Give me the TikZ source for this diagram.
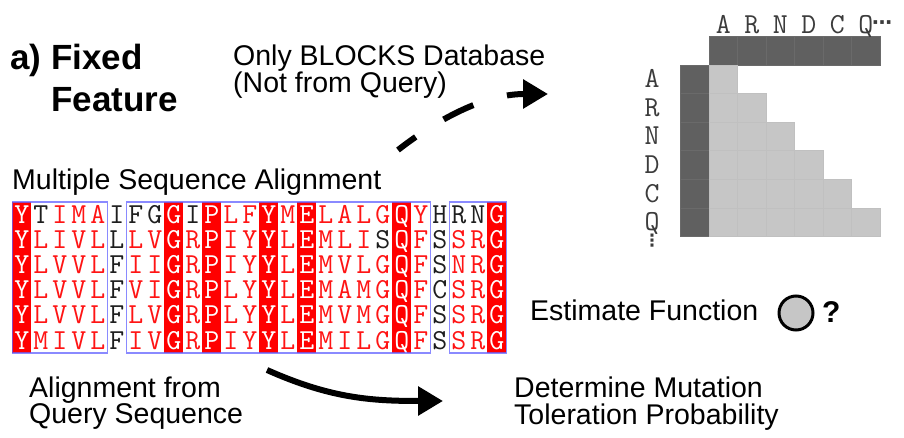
\documentclass[tikz,border=0pt]{standalone}
\usepackage{fontspec}
\setmainfont{Liberation Sans}
\newfontfamily\dejavu{DejaVu Sans}
\usetikzlibrary{arrows.meta}
\definecolor{alnred}{RGB}{255,0,0}
\definecolor{boxblue}{RGB}{100,100,255}
\definecolor{darkcell}{RGB}{96,96,96}
\definecolor{lightcell}{RGB}{198,198,198}
\definecolor{colW}{RGB}{255,255,255}
\definecolor{colR}{RGB}{255,20,20}
\definecolor{colK}{RGB}{30,30,30}
\definecolor{lblgray}{RGB}{60,60,60}
\tikzset{
  sans/.style={font=\fontsize{28.5}{34}\selectfont, inner sep=0pt, anchor=base west},
  titletext/.style={font=\bfseries\fontsize{35}{40}\selectfont, inner sep=0pt, anchor=base west},
  aa/.style={font=\ttfamily\fontsize{29}{29}\selectfont, inner sep=0pt, anchor=base},
  lbl/.style={font=\ttfamily\fontsize{29}{29}\selectfont, inner sep=0pt, anchor=base, text=lblgray},
  bigarrow/.style={line width=6pt, -{Triangle[length=25pt,width=28pt]}},
  darkbox/.style={fill=darkcell, draw=darkcell!94!white, line width=0.8pt},
  lightbox/.style={fill=lightcell, draw=lightcell!97!black, line width=0.8pt},
  bluebox/.style={draw=boxblue, draw opacity=0.75, line width=1.6pt},
}
\begin{document}
\begin{tikzpicture}[x=1pt,y=-1pt]
\useasboundingbox (0,0) rectangle (904,438);
\fill[white] (0,0) rectangle (904,438);

% titles and texts
\node[titletext] (t1) at (10,70) {a) Fixed};
\node[titletext] (t2) at (51,112) {Feature};
\node[sans] (blk1) at (233,66) {Only BLOCKS Database};
\node[sans] (blk2) at (233,93) {(Not from Query)};
\node[sans] (msa) at (12,190) {Multiple Sequence Alignment};
\node[sans] (aq1) at (29,397) {Alignment from};
\node[sans] (aq2) at (29,423) {Query Sequence};
\node[sans] (dm1) at (514,397) {Determine Mutation};
\node[sans] (dm2) at (514,424) {Toleration Probability};
\node[sans] (ef) at (530,320) {Estimate Function};
\node[circle, draw=black, line width=3pt, fill=lightcell, minimum size=34pt, inner sep=0pt] (fc) at (796,313) {};
\node[titletext, font=\bfseries\fontsize{30}{32}\selectfont] (qm) at (822,322) {?};

% alignment red columns
\foreach \c in {1,9,11,14,16,21,26}
  \fill[alnred] ({12.3+(\c-1)*19},202) rectangle ({12.3+\c*19},353.2);

% alignment letters
\foreach \r/\rowlist in {
 1/{Y/W,T/K,I/R,M/R,A/R,I/K,F/K,G/K,G/W,I/K,P/W,L/R,F/R,Y/W,M/R,E/W,L/R,A/R,L/R,G/R,Q/W,Y/R,H/K,R/K,N/K,G/W},
 2/{Y/W,L/R,I/R,V/R,L/R,L/K,L/R,V/R,G/W,R/R,P/W,I/R,Y/R,Y/W,L/R,E/W,M/R,L/R,I/R,S/K,Q/W,F/R,S/K,S/R,R/R,G/W},
 3/{Y/W,L/R,V/R,V/R,L/R,F/K,I/R,I/R,G/W,R/R,P/W,I/R,Y/R,Y/W,L/R,E/W,M/R,V/R,L/R,G/R,Q/W,F/R,S/K,N/R,R/R,G/W},
 4/{Y/W,L/R,V/R,V/R,L/R,F/K,V/R,I/R,G/W,R/R,P/W,L/R,Y/R,Y/W,L/R,E/W,M/R,A/R,M/R,G/R,Q/W,F/R,C/K,S/R,R/R,G/W},
 5/{Y/W,L/R,V/R,V/R,L/R,F/K,L/R,V/R,G/W,R/R,P/W,L/R,Y/R,Y/W,L/R,E/W,M/R,V/R,M/R,G/R,Q/W,F/R,S/K,S/R,R/R,G/W},
 6/{Y/W,M/R,I/R,V/R,L/R,F/K,I/R,V/R,G/W,R/R,P/W,I/R,Y/R,Y/W,L/R,E/W,M/R,I/R,L/R,G/R,Q/W,F/R,S/K,S/R,R/R,G/W}}
{
  \foreach \ch/\cd [count=\c] in \rowlist
    \node[aa, text=col\cd] (a-\r-\c) at ({12.3+(\c-0.5)*19},{202+(\r-0.5)*25.2+8.5}) {\ch};
}

% alignment blue boxes
\draw[bluebox] (12.3,202) rectangle (107.3,353.2);
\draw[bluebox] (126.3,202) rectangle (430.3,353.2);
\draw[bluebox] (449.3,202) rectangle (506.3,353.2);

% substitution matrix
\foreach \j in {1,...,6}
  \filldraw[darkbox] ({709+(\j-1)*28.5},36.7) rectangle ++(28.5,28.3);
\foreach \i in {1,...,6}
  \filldraw[darkbox] (680,{65+(\i-1)*28.6}) rectangle ++(29,28.6);
\foreach \i in {1,...,6}
  \foreach \j in {1,...,\i}
    \filldraw[lightbox] ({709+(\j-1)*28.5},{65+(\i-1)*28.6}) rectangle ++(28.5,28.6);

\foreach \l [count=\j] in {A,R,N,D,C,Q}
  \node[lbl] (col-\j) at ({709+(\j-0.5)*28.5},33.5) {\l};
\node[inner sep=0pt, anchor=west, text=lblgray, font=\dejavu\bfseries\fontsize{20}{20}\selectfont] (cdots) at (872,25) {⋯};
\foreach \l [count=\i] in {A,R,N,D,C,Q}
  \node[lbl] (row-\i) at (652,{65+(\i-0.5)*28.6+8.5}) {\l};
\node[inner sep=0pt, anchor=north, text=lblgray, font=\dejavu\bfseries\fontsize{17}{17}\selectfont] (vdots) at (652,234) {⋮};

% arrows
\coordinate (dashS) at (398,150);
\coordinate (dashE) at (548,94);
\draw[bigarrow, dash pattern=on 22pt off 33pt on 33pt off 35pt] (dashS) .. controls (430,125) and (480,94) .. (dashE);
\coordinate (curS) at (267,370);
\coordinate (curE) at (443,401);
\draw[bigarrow] (curS) .. controls (330,398) and (370,401) .. (curE);
\end{tikzpicture}
\end{document}
